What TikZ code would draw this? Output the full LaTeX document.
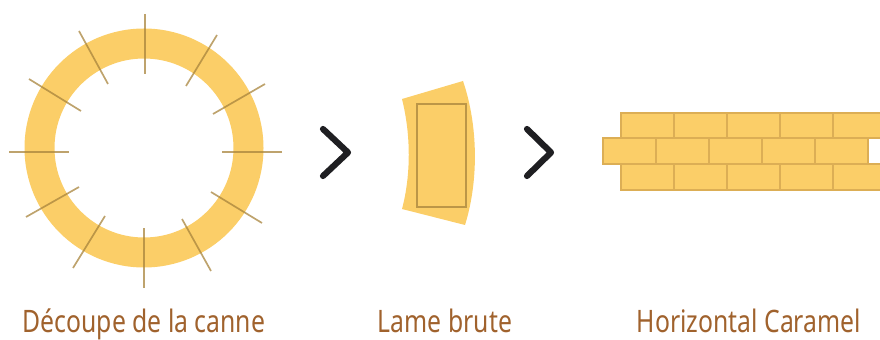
\documentclass[tikz,border=0pt]{standalone}
\usepackage{fontspec}
\setmainfont[FakeStretch=0.8]{Noto Sans}
\definecolor{caramel}{HTML}{FBCE68}
\definecolor{cut}{HTML}{A8843C}
\definecolor{brick}{HTML}{DCAE55}
\definecolor{ink}{HTML}{1F1F22}
\definecolor{brown}{HTML}{A0622D}
\tikzset{
  cutline/.style={cut,opacity=.75,line width=1.2pt},
  chevron/.style={ink,line width=4.4pt,line cap=round,line join=round},
  brickbox/.style={draw=brick,fill=caramel,line width=1pt},
  caption/.style={text=brown,inner sep=0pt,font=\fontsize{22pt}{24pt}\selectfont,anchor=base}
}
\begin{document}
\begin{tikzpicture}[x=.025cm,y=-.025cm]
  \useasboundingbox (0,0) rectangle (880,340);
  \clip (0,0) rectangle (880,340);

  % ring
  \fill[caramel,even odd rule] (144,148) circle[radius=119.5] (144,148) circle[radius=89.5];
  \foreach \xa/\ya/\xb/\yb in {145/14/145/74,217/35/186/86,265/84/213/114,282/152/222/152,
      262/223/211/192,211/271/182/219,144/288/144/228,73/268/105/216,
      26/217/79/187,9/152/69/152,29/79/81/111,79/31/108/84}{
    \draw[cutline] (\xa,\ya)--(\xb,\yb);
  }

  \draw[chevron] (323,129)--(348,152.5)--(323,176);

  % blade
  \fill[caramel] (402,99)--(463,81)
    .. controls (478,125) and (479,180) .. (465,225)
    --(402,209)
    .. controls (411,175) and (411,135) .. cycle;
  \draw[cutline] (417,104) rectangle (466,207);

  \draw[chevron] (527,129)--(551,152.5)--(527,176);

  % bricks
  \foreach \n in {0,...,4}{
    \pgfmathsetmacro{\xx}{621+53*\n}
    \pgfmathsetmacro{\xc}{\xx-18}
    \draw[brickbox] (\xx,113) rectangle ++(53,25);
    \draw[brickbox] (\xc,138) rectangle ++(53,26);
    \draw[brickbox] (\xx,164) rectangle ++(53,26);
  }

  \node[caption] (canne) at (144,332.5) {Découpe de la canne};
  \node[caption] (lame) at (445,332.5) {Lame brute};
  \node[caption] (horizontal) at (749,332.5) {Horizontal Caramel};
\end{tikzpicture}
\end{document}
